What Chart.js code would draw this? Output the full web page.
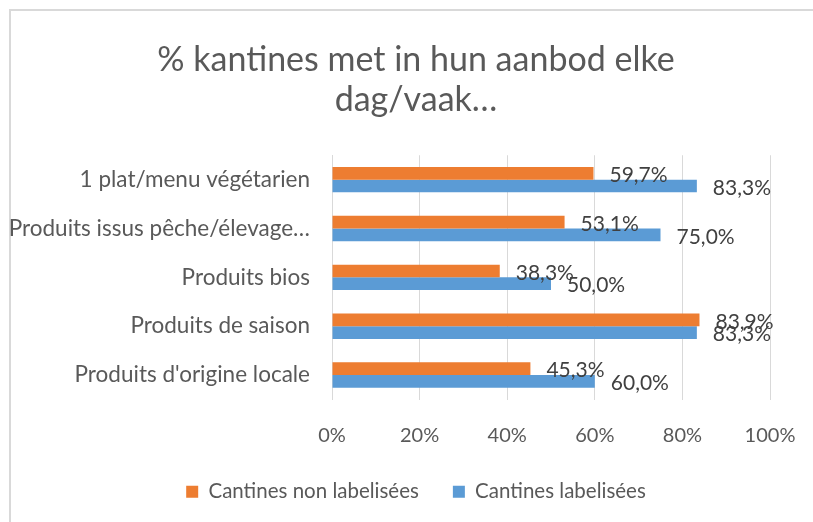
<!DOCTYPE html>
<html>
<head>
<meta charset="utf-8">
<script src="https://cdn.jsdelivr.net/npm/chart.js@4"></script>
<style>
  html, body { margin: 0; padding: 0; background: #fff; }
  #wrap { width: 813px; height: 522px; }
</style>
</head>
<body>
<div id="wrap"><canvas id="cantinesChart" width="813" height="522"></canvas></div>
<script>
const categories = [
    "1 plat/menu végétarien",
    "Produits issus pêche/élevage…",
    "Produits bios",
    "Produits de saison",
    "Produits d'origine locale"
];
const nonLabelisees = [59.7, 53.1, 38.3, 83.9, 45.3];
const labelisees = [83.3, 75.0, 50.0, 83.3, 60.0];
const xTicks = [0, 20, 40, 60, 80, 100];

const textGrey = '#595959';

// value labels to the right of each bar, Excel style "59,7%"
const valueLabels = {
    id: 'valueLabels',
    afterDatasetsDraw(chart) {
        const ctx = chart.ctx;
        ctx.save();
        ctx.font = '21px Lato';
        ctx.fillStyle = '#404040';
        ctx.textAlign = 'left';
        ctx.textBaseline = 'middle';
        chart.data.datasets.forEach((ds, i) => {
            chart.getDatasetMeta(i).data.forEach((bar, j) => {
                const txt = ds.data[j].toFixed(1).replace('.', ',') + '%';
                ctx.fillText(txt, bar.x + 16, bar.y + 2);
            });
        });
        ctx.restore();
    }
};

const frame = {
    id: 'frame',
    beforeDraw(chart) {
        const ctx = chart.ctx;
        ctx.save();
        ctx.fillStyle = '#fff';
        ctx.fillRect(0, 0, chart.width, chart.height);
        ctx.strokeStyle = '#d9d9d9';
        ctx.lineWidth = 2;
        ctx.beginPath();
        ctx.moveTo(10, chart.height);
        ctx.lineTo(10, 10);
        ctx.lineTo(chart.width, 10);
        ctx.stroke();
        ctx.restore();
    }
};

new Chart(document.getElementById('cantinesChart'), {
    type: 'bar',
    data: {
        labels: categories,
        datasets: [
            {
                label: 'Cantines non labelisées',
                data: nonLabelisees,
                backgroundColor: '#ed7d31'
            },
            {
                label: 'Cantines labelisées',
                data: labelisees,
                backgroundColor: '#5b9bd5'
            }
        ]
    },
    options: {
        indexAxis: 'y',
        responsive: false,
        animation: false,
        datasets: {
            bar: { categoryPercentage: 0.52, barPercentage: 1.0 }
        },
        // negative right padding so the title and legend sit centred like in Excel
        layout: { padding: { left: 10, right: -9, top: 0, bottom: 10 } },
        plugins: {
            title: {
                display: true,
                text: ['% kantines met in hun aanbod elke', 'dag/vaak…'],
                color: textGrey,
                font: { family: 'Lato', size: 34, weight: 'normal', lineHeight: 1.18 },
                padding: { top: 40, bottom: 35 }
            },
            legend: {
                position: 'bottom',
                labels: {
                    color: textGrey,
                    font: { family: 'Lato', size: 20.5 },
                    boxWidth: 12,
                    boxHeight: 12,
                    padding: 34
                }
            },
            tooltip: { enabled: false }
        },
        scales: {
            x: {
                min: 0,
                max: 100,
                afterBuildTicks: scale => { scale.ticks = xTicks.map(v => ({ value: v })); },
                afterFit: scale => {
                    scale.height = 48;
                    scale.paddingLeft = 0;
                    scale.paddingRight = 0;
                },
                ticks: {
                    color: textGrey,
                    font: { family: 'Lato', size: 20 },
                    padding: 24,
                    maxRotation: 0,
                    callback: v => v + '%'
                },
                grid: { color: '#d9d9d9', drawTicks: false },
                border: { display: false }
            },
            y: {
                afterFit: scale => { scale.width = 322; },
                ticks: {
                    color: textGrey,
                    font: { family: 'Lato', size: 22.5 },
                    padding: 22
                },
                grid: { display: false, drawTicks: false },
                border: { display: true, color: '#d9d9d9' }
            },
            // empty spacer on the right, keeps the plot ending at 100%
            spacer: {
                type: 'linear',
                axis: 'y',
                position: 'right',
                ticks: { display: false },
                grid: { display: false, drawTicks: false },
                border: { display: false },
                afterFit: scale => { scale.width = 52; }
            }
        }
    },
    plugins: [frame, valueLabels]
});
</script>
</body>
</html>
